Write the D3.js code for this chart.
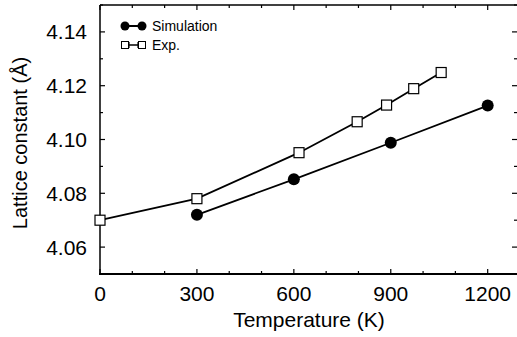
<!DOCTYPE html>
<html>
<head>
<meta charset="utf-8">
<script src="https://cdn.jsdelivr.net/npm/d3@7"></script>
<style>
  body { margin: 0; background: #fff; }
  text { font-family: "Liberation Sans", Arial, sans-serif; fill: #000; }
</style>
</head>
<body>
<div class="chart"></div>
<script>
// data
var simTemp = [300, 600, 900, 1200];
var simLattice = [4.072, 4.0852, 4.0988, 4.1126];
var expTemp = [0, 300, 616, 796, 887, 971, 1056];
var expLattice = [4.070, 4.078, 4.0951, 4.1066, 4.1128, 4.1189, 4.1249];
var xTicks = [0, 300, 600, 900, 1200];
var yTicks = [4.06, 4.08, 4.10, 4.12, 4.14];
var legendNames = ["Simulation", "Exp."];

var width = 517, height = 337;
var margin = { top: 5, left: 100, right: -3, bottom: 63 };

var svg = d3.select(".chart").append("svg")
    .attr("width", width)
    .attr("height", height);

var x = d3.scaleLinear().domain([0, 1300]).range([margin.left, width - margin.right]);
var y = d3.scaleLinear().domain([4.05, 4.15]).range([height - margin.bottom, margin.top]);

var x0 = x.range()[0], x1 = x.range()[1];
var y0 = y.range()[0], y1 = y.range()[1];

// frame
var frame = svg.append("g").attr("stroke", "#000").attr("fill", "none");
frame.append("line").attr("x1", x0).attr("x2", x0).attr("y1", y1).attr("y2", y0).attr("stroke-width", 1.5);
frame.append("line").attr("x1", x0 - 1).attr("x2", x1).attr("y1", y0).attr("y2", y0).attr("stroke-width", 2);
frame.append("line").attr("x1", x0).attr("x2", x1).attr("y1", y1).attr("y2", y1).attr("stroke-width", 1.5);

// ticks (inward, all four sides)
var xMinor = d3.range(0, 1301, 100);
var yMinor = d3.range(4.05, 4.1501, 0.01);
var ticks = svg.append("g").attr("stroke", "#000").attr("stroke-width", 1.2);
xMinor.forEach(function (t) {
    var major = (t % 300 === 0);
    var len = major ? 5 : 3;
    ticks.append("line").attr("x1", x(t)).attr("x2", x(t)).attr("y1", y0).attr("y2", y0 - len);
    ticks.append("line").attr("x1", x(t)).attr("x2", x(t)).attr("y1", y1).attr("y2", y1 + len);
});
yMinor.forEach(function (v) {
    var major = yTicks.some(function (m) { return Math.abs(m - v) < 1e-6; });
    var len = major ? 5 : 3;
    ticks.append("line").attr("x1", x0).attr("x2", x0 + len).attr("y1", y(v)).attr("y2", y(v));
    ticks.append("line").attr("x1", 517).attr("x2", 517 - len).attr("y1", y(v)).attr("y2", y(v));
});

// tick labels
svg.append("g").selectAll("text").data(xTicks).enter().append("text")
    .attr("x", function (d) { return x(d); })
    .attr("y", 301)
    .attr("text-anchor", "middle")
    .style("font-size", "21px")
    .text(function (d) { return d; });

svg.append("g").selectAll("text").data(yTicks).enter().append("text")
    .attr("x", 87)
    .attr("y", function (d) { return y(d) + 7.5; })
    .attr("text-anchor", "end")
    .style("font-size", "21px")
    .text(function (d) { return d.toFixed(2); });

// axis titles
svg.append("text")
    .attr("x", 309).attr("y", 327)
    .attr("text-anchor", "middle")
    .style("font-size", "21px")
    .text("Temperature (K)");

svg.append("text")
    .attr("transform", "translate(27,143) rotate(-90)")
    .attr("text-anchor", "middle")
    .style("font-size", "20px")
    .text("Lattice constant (Å)");

// lines
var simData = simTemp.map(function (t, i) { return [t, simLattice[i]]; });
var expData = expTemp.map(function (t, i) { return [t, expLattice[i]]; });
var line = d3.line().x(function (d) { return x(d[0]); }).y(function (d) { return y(d[1]); });

svg.append("path").datum(expData).attr("d", line)
    .attr("fill", "none").attr("stroke", "#000").attr("stroke-width", 1.8);
svg.append("path").datum(simData).attr("d", line)
    .attr("fill", "none").attr("stroke", "#000").attr("stroke-width", 1.8);

// markers
svg.append("g").selectAll("rect").data(expData).enter().append("rect")
    .attr("x", function (d) { return x(d[0]) - 5; })
    .attr("y", function (d) { return y(d[1]) - 5; })
    .attr("width", 10).attr("height", 10)
    .attr("fill", "#fff").attr("stroke", "#000").attr("stroke-width", 1.2);

svg.append("g").selectAll("circle").data(simData).enter().append("circle")
    .attr("cx", function (d) { return x(d[0]); })
    .attr("cy", function (d) { return y(d[1]); })
    .attr("r", 6).attr("fill", "#000");

// legend
var leg = svg.append("g");
leg.append("line").attr("x1", 125).attr("x2", 142).attr("y1", 26).attr("y2", 26)
    .attr("stroke", "#000").attr("stroke-width", 2);
leg.append("circle").attr("cx", 125).attr("cy", 26).attr("r", 4.5).attr("fill", "#000");
leg.append("circle").attr("cx", 142).attr("cy", 26).attr("r", 4.5).attr("fill", "#000");
leg.append("text").attr("x", 152).attr("y", 31).style("font-size", "14px").text(legendNames[0]);

leg.append("line").attr("x1", 125).attr("x2", 142).attr("y1", 45).attr("y2", 45)
    .attr("stroke", "#000").attr("stroke-width", 1.5);
leg.append("line").attr("x1", 129).attr("x2", 129).attr("y1", 42).attr("y2", 48)
    .attr("stroke", "#000").attr("stroke-width", 1.2);
leg.append("line").attr("x1", 138).attr("x2", 138).attr("y1", 42).attr("y2", 48)
    .attr("stroke", "#000").attr("stroke-width", 1.2);
leg.append("rect").attr("x", 121.5).attr("y", 41.5).attr("width", 7).attr("height", 7)
    .attr("fill", "#fff").attr("stroke", "#000").attr("stroke-width", 1);
leg.append("rect").attr("x", 138.5).attr("y", 41.5).attr("width", 7).attr("height", 7)
    .attr("fill", "#fff").attr("stroke", "#000").attr("stroke-width", 1);
leg.append("text").attr("x", 152).attr("y", 50).style("font-size", "14px").text(legendNames[1]);
</script>
</body>
</html>
